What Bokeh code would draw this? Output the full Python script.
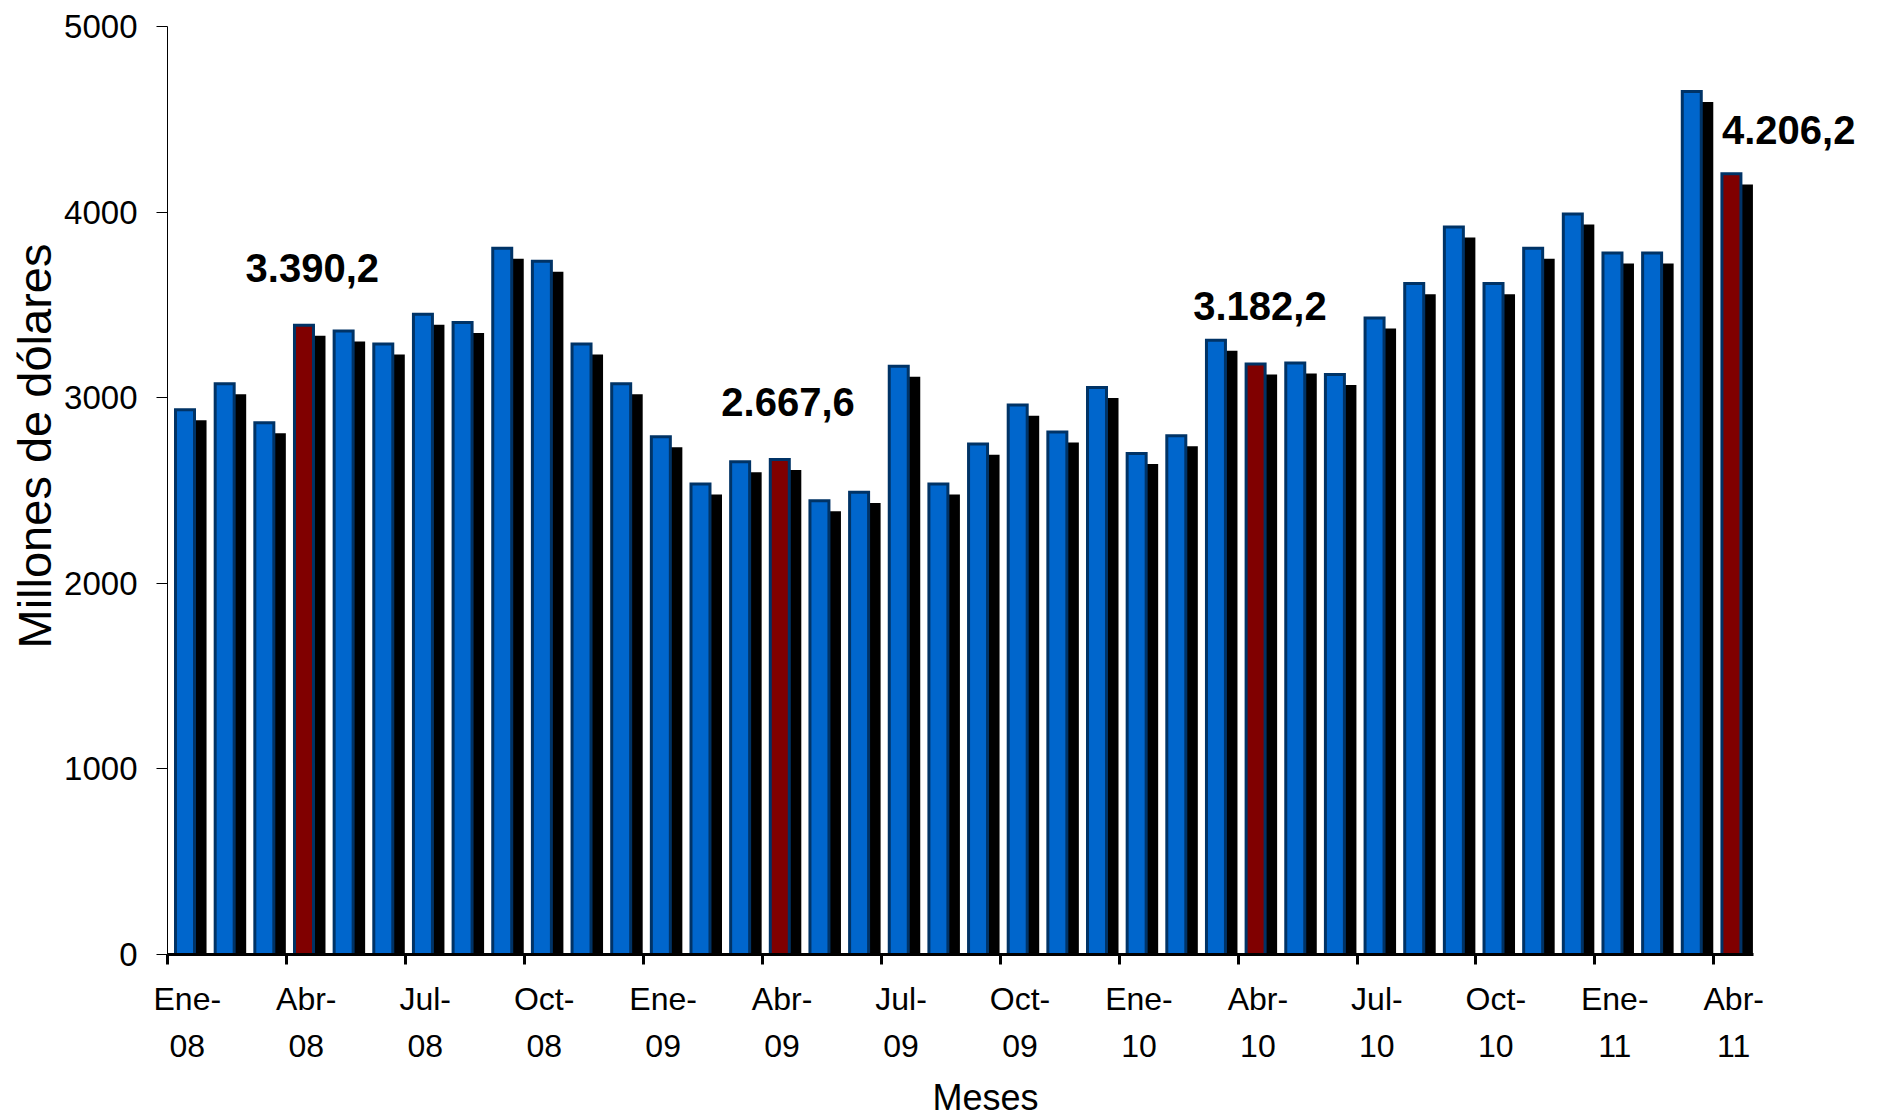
from bokeh.plotting import figure
from bokeh.models import ColumnDataSource, FixedTicker, Range1d, Title
from bokeh.transform import dodge
from bokeh.core.properties import value
from bokeh.embed import file_html
from bokeh.resources import INLINE

# ---- data ----
months = [
    "Ene-08", "Feb-08", "Mar-08", "Abr-08", "May-08", "Jun-08", "Jul-08", "Ago-08", "Sep-08", "Oct-08", "Nov-08", "Dic-08",
    "Ene-09", "Feb-09", "Mar-09", "Abr-09", "May-09", "Jun-09", "Jul-09", "Ago-09", "Sep-09", "Oct-09", "Nov-09", "Dic-09",
    "Ene-10", "Feb-10", "Mar-10", "Abr-10", "May-10", "Jun-10", "Jul-10", "Ago-10", "Sep-10", "Oct-10", "Nov-10", "Dic-10",
    "Ene-11", "Feb-11", "Mar-11", "Abr-11",
]
valores = [
    2935, 3075, 2865, 3390.2, 3360, 3290, 3450, 3405, 3805, 3735, 3290, 3075,
    2790, 2535, 2655, 2667.6, 2445, 2490, 3170, 2535, 2750, 2960, 2815, 3055,
    2700, 2795, 3310, 3182.2, 3187, 3125, 3430, 3615, 3920, 3615, 3805, 3990,
    3780, 3780, 4650, 4206.2,
]
y_ticks = [0, 1000, 2000, 3000, 4000, 5000]
tick_step = 3
highlight_prefix = "Abr"
x_title = "Meses"
y_title = "Millones de dólares"

# ---- styles ----
BLUE = "#0066CC"
RED = "#800000"
EDGE = "#003366"
SHADOW_DY = 57          # shadow drop, in value units (~10.5 px)
LABEL_DX = [6, 6, 2, 55]     # px
LABEL_DY = [-57, -57, -58, -44]  # px
FONT = "Liberation Sans"

def fmt_es(v):
    s = f"{v:,.1f}"
    return s.replace(",", "X").replace(".", ",").replace("X", ".")

idx = list(range(len(months)))
hi = [m.startswith(highlight_prefix) for m in months]
fills = [RED if h else BLUE for h in hi]
src = ColumnDataSource(dict(
    x=idx, top=valores, shadow_top=[v - SHADOW_DY for v in valores], fill=fills,
))

lab_idx = [i for i, h in enumerate(hi) if h]
lab_src = ColumnDataSource(dict(
    x=lab_idx,
    y=[valores[i] for i in lab_idx],
    text=[fmt_es(valores[i]) for i in lab_idx],
    dx=LABEL_DX,
    dy=LABEL_DY,
))

p = figure(
    frame_width=1705, frame_height=928,
    x_range=Range1d(-0.5, 42.5), y_range=Range1d(0, 5000),
    output_backend="svg", toolbar_location=None,
    min_border_left=167, min_border_right=2, min_border_top=26, min_border_bottom=150,
    background_fill_color="white", border_fill_color="white",
)
p.outline_line_color = None
p.xgrid.grid_line_color = None
p.ygrid.grid_line_color = None

# shadows
p.vbar(x=dodge("x", 0.207, range=p.x_range), top="shadow_top", bottom=0, width=0.555,
       source=src, fill_color="black", line_color=None)
# bars
p.vbar(x=dodge("x", -0.058, range=p.x_range), top="top", bottom=0, width=0.479,
       source=src, fill_color="fill", line_color=EDGE, line_width=3, line_join="miter")

# value labels
p.text(x="x", y="y", text="text", x_offset="dx", y_offset="dy", source=lab_src,
       text_align="center", text_baseline="alphabetic",
       text_font=value(FONT), text_font_style="bold",
       text_font_size="40px", text_color="black")

# x axis
xa = p.xaxis[0]
ticks = idx[::tick_step]
xa.ticker = FixedTicker(ticks=ticks, minor_ticks=[t - 0.5 for t in ticks])
xa.major_label_overrides = {t: months[t].replace("-", "-\n") for t in ticks}
xa.bounds = (-0.5, len(months) - 0.5)
xa.axis_line_width = 3
xa.axis_line_color = "black"
xa.major_tick_out = 0
xa.major_tick_in = 0
xa.minor_tick_out = 10
xa.minor_tick_in = 0
xa.minor_tick_line_width = 3
xa.minor_tick_line_color = "black"
xa.major_label_standoff = 16
xa.major_label_text_font = FONT
xa.major_label_text_font_size = "32px"
xa.major_label_text_color = "black"
xa.major_label_text_line_height = 1.32

# y axis
ya = p.yaxis[0]
ya.ticker = FixedTicker(ticks=y_ticks, minor_ticks=[])
ya.axis_line_width = 1
ya.axis_line_color = "black"
ya.major_tick_out = 11
ya.major_tick_in = 0
ya.major_tick_line_color = "black"
ya.major_label_standoff = 19
ya.major_label_text_font = FONT
ya.major_label_text_font_size = "33px"
ya.major_label_text_color = "black"

# axis titles (as side titles, to place them like the reference)
p.add_layout(Title(text=y_title, align="left", offset=306, standoff=2,
                   text_font=FONT, text_font_size="47px", text_font_style="normal",
                   text_color="black"), "left")
p.add_layout(Title(text=x_title, align="left", offset=765, standoff=14,
                   text_font=FONT, text_font_size="36px", text_font_style="normal",
                   text_color="black"), "below")

open("out.html", "w").write(file_html(p, INLINE))
